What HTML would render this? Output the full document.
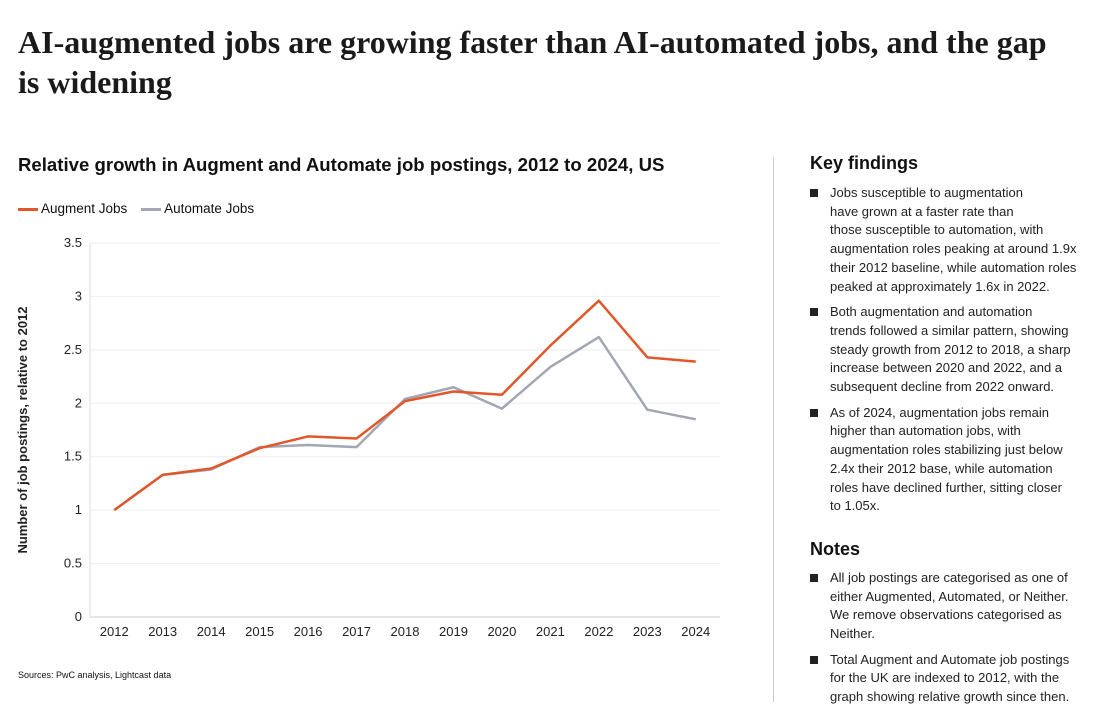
<!DOCTYPE html>
<html><head><meta charset="utf-8"><style>
body{margin:0;width:1100px;height:715px;background:#fff;font-family:"Liberation Sans",sans-serif;color:#111;position:relative;overflow:hidden}
.t{position:absolute}
h1{position:absolute;left:18px;top:22px;margin:0;font-family:"Liberation Serif",serif;font-size:32px;line-height:40px;font-weight:bold;width:1030px;color:#1a1a1a}
ul{list-style:none;margin:0;padding:0}
li{position:relative;padding-left:20px;font-size:13px;line-height:18.7px;margin-bottom:7px;color:#222}
li:before{content:"";position:absolute;left:0;top:5px;width:8px;height:8px;background:#222}
</style></head><body>
<h1>AI-augmented jobs are growing faster than AI-automated jobs, and the gap is widening</h1>
<div class="t" style="left:18px;top:154px;font-size:18.6px;font-weight:bold">Relative growth in Augment and Automate job postings, 2012 to 2024, US</div>
<div class="t" style="left:18px;top:201px;font-size:13.5px">
<span><span style="display:inline-block;width:20px;height:3px;background:#e0582a;vertical-align:middle"></span> Augment Jobs</span>
<span style="margin-left:10px"><span style="display:inline-block;width:20px;height:3px;background:#a3a6b3;vertical-align:middle"></span> Automate Jobs</span>
</div>
<svg class="t" style="left:0;top:0" width="760" height="715" id="chart"></svg>
<div class="t" style="left:18px;top:670px;font-size:9px">Sources: PwC analysis, Lightcast data</div>
<div class="t" style="left:773px;top:157px;width:1px;height:545px;background:#ccc"></div>
<div class="t" style="left:810px;top:153px;width:270px">
<div style="font-size:18px;font-weight:bold;margin-bottom:10px">Key findings</div>
<ul>
<li>Jobs susceptible to augmentation<br>have grown at a faster rate than<br>those susceptible to automation, with augmentation roles peaking at around 1.9x their 2012 baseline, while automation roles peaked at approximately 1.6x in 2022.</li>
<li>Both augmentation and automation<br>trends followed a similar pattern, showing steady growth from 2012 to 2018, a sharp increase between 2020 and 2022, and a subsequent decline from 2022 onward.</li>
<li>As of 2024, augmentation jobs remain higher than automation jobs, with augmentation roles stabilizing just below 2.4x their 2012 base, while automation roles have declined further, sitting closer<br>to 1.05x.</li>
</ul>
<div style="font-size:18px;font-weight:bold;margin:23px 0 9px">Notes</div>
<ul>
<li>All job postings are categorised as one of either Augmented, Automated, or Neither. We remove observations categorised as Neither.</li>
<li>Total Augment and Automate job postings for the UK are indexed to 2012, with the graph showing relative growth since then.</li>
</ul>
</div>
<script>
const years=[2012,2013,2014,2015,2016,2017,2018,2019,2020,2021,2022,2023,2024];
const augment=[1.0,1.33,1.39,1.58,1.69,1.67,2.02,2.11,2.08,2.54,2.96,2.43,2.39];
const automate=[1.0,1.33,1.38,1.59,1.61,1.59,2.04,2.15,1.95,2.34,2.62,1.94,1.85];
const yTicks=[0,0.5,1,1.5,2,2.5,3,3.5];
const NS="http://www.w3.org/2000/svg",svg=document.getElementById('chart');
const x0=90,x1=720,y0=617,y1=243,yMax=3.5;
const step=(x1-x0)/years.length;
const xs=i=>x0+step*(i+0.5), ys=v=>y0-(v/yMax)*(y0-y1);
function mk(t,a){const e=document.createElementNS(NS,t);for(const k in a)e.setAttribute(k,a[k]);svg.appendChild(e);return e;}
yTicks.forEach(v=>{
 const g=mk('line',{x1:x0,x2:x1,y1:ys(v),y2:ys(v),stroke:v===0?'#ccc':'#eee'});
 
 
 const t=mk('text',{x:x0-8,y:ys(v)+4,'text-anchor':'end','font-size':13,fill:'#222'});
 t.textContent=v;
 
 
});
const ax=mk('line',{x1:x0,x2:x0,y1:y1,y2:y0,stroke:'#ddd'});


years.forEach((y,i)=>{
 const t=mk('text',{x:xs(i),y:636,'text-anchor':'middle','font-size':13,fill:'#222'});
 t.textContent=y;
 
 
});
const yt=mk('text',{transform:'translate(27,430) rotate(-90)','text-anchor':'middle','font-size':13,'font-weight':'bold',fill:'#222'});
yt.textContent='Number of job postings, relative to 2012';


function line(d,c,n){const p=mk('polyline',{points:d.map((v,i)=>xs(i)+','+ys(v)).join(' '),fill:'none',stroke:c,'stroke-width':2.5,'stroke-linejoin':'round'});
 
 }
line(automate,'#a3a6b3','automate-line');
line(augment,'#e0582a','augment-line');
</script>
</body></html>
